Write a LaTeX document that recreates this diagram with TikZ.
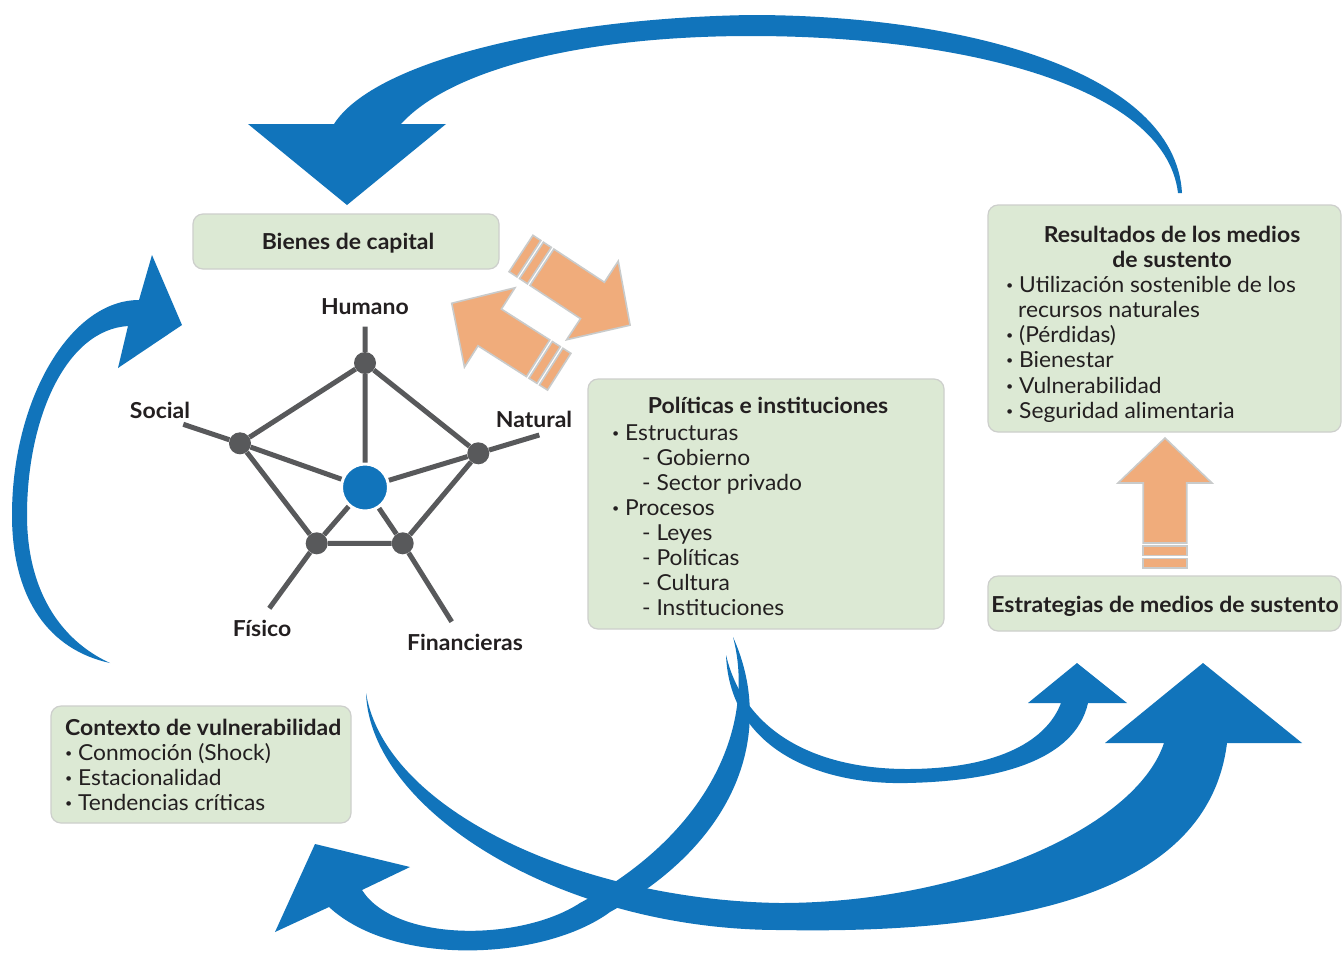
\documentclass[tikz,border=0pt]{standalone}
\usepackage{fontspec}
\setmainfont{Lato}[FakeStretch=1.036, BoldFeatures={FakeStretch=1.045}]
\definecolor{ink}{HTML}{231F20}
\definecolor{flowblue}{HTML}{1174BB}
\definecolor{boxfill}{HTML}{DCE9D4}
\definecolor{boxline}{HTML}{CDCFCC}
\definecolor{orfill}{HTML}{F0AC7B}
\definecolor{orline}{HTML}{C9CBCB}
\definecolor{webgray}{HTML}{58595B}
% small list bullet followed by a fixed gap
\newcommand\itemdot{\makebox[13pt][l]{\raisebox{2.6pt}{\fontsize{12}{12}\selectfont •}}}
\begin{document}
\begin{tikzpicture}[x=1pt,y=-1pt,
  capbox/.style={draw=boxline, line width=1.2, fill=boxfill, rounded corners=10, inner sep=0},
  txt/.style={inner sep=0, text=ink, font=\fontsize{22}{25}\selectfont},
  btxt/.style={txt, font=\fontsize{22}{25}\selectfont\bfseries},
  dot/.style={circle, fill=webgray, minimum size=22, inner sep=0},
  web/.style={draw=webgray, line width=5},
  orpart/.style={fill=orfill, draw=orline, line width=1.6, line join=miter},
  pics/blockarrow/.style={code={
    \path[orpart] (0,-21.75) rectangle (9.5,21.75);
    \path[orpart] (12.5,-21.75) rectangle (22,21.75);
    \path[orpart] (25,-21.75) -- ({#1-45},-21.75) -- ({#1-45},-47) -- (#1,0)
      -- ({#1-45},47) -- ({#1-45},21.75) -- (25,21.75) -- cycle;
  }}
]
\useasboundingbox (0,0) rectangle (1343,954);
\fill[white] (0,0) rectangle (1343,954);

% ---- boxes
\node[capbox, minimum width=306, minimum height=55] (bienes) at (346,241.5) {};
\node[capbox, minimum width=356, minimum height=250] (politicas) at (766,504) {};
\node[capbox, minimum width=353, minimum height=227] (resultados) at (1164.5,318.5) {};
\node[capbox, minimum width=353, minimum height=55] (estrategias) at (1164.5,603.5) {};
\node[capbox, minimum width=300, minimum height=117] (contexto) at (201,764.5) {};

% ---- blue flow arrows
% outcomes back to capital assets (top)
\fill[flowblue] (334,124) .. controls (375,60) and (560,18) .. (751,15)
  .. controls (960,15) and (1175,70) .. (1182,193) -- (1178,193)
  .. controls (1165,85) and (960,36) .. (751,36)
  .. controls (580,36) and (450,70) .. (401,124)
  -- (446,124) -- (347,205) -- (248,124) -- cycle;
% vulnerability context to capital assets (left)
\fill[flowblue] (139,300) .. controls (70,300) and (12,400) .. (12,515)
  .. controls (12,600) and (50,650) .. (110,663)
  .. controls (60,640) and (27,590) .. (27,515)
  .. controls (27,420) and (65,330) .. (128,326)
  -- (118,368) -- (182,325) -- (152,255) -- cycle;
% capital assets to strategies (large bottom)
\fill[flowblue] (366,693) .. controls (370,810) and (560,930) .. (780,930)
  .. controls (1050,935) and (1210,880) .. (1227,743)
  -- (1302,743) -- (1203,663) -- (1105,743) -- (1164,743)
  .. controls (1135,830) and (960,903) .. (780,903)
  .. controls (580,900) and (385,810) .. (366,693) -- cycle;
% policies to vulnerability context
\fill[flowblue] (733,637) .. controls (775,730) and (740,840) .. (610,912)
  .. controls (545,960) and (395,968) .. (329,907)
  -- (275,932) -- (315,844) -- (410,867) -- (362,890)
  .. controls (395,942) and (520,942) .. (580,903)
  .. controls (715,830) and (755,720) .. (733,637) -- cycle;
% policies to strategies
\fill[flowblue] (726,655) .. controls (730,750) and (820,785) .. (907,783)
  .. controls (1000,781) and (1075,760) .. (1088,703)
  -- (1127,703) -- (1077,663) -- (1028,703) -- (1061,703)
  .. controls (1045,745) and (990,769) .. (907,769)
  .. controls (820,769) and (745,735) .. (726,655) -- cycle;

% ---- orange block arrows
\pic[rotate=-33.3] at (521,253.5) {blockarrow=130.5};
\pic[rotate=147.5] at (559.2,371.7) {blockarrow=127.4};
\pic[rotate=90] at (1165,568) {blockarrow=130};

% ---- capital pentagon
\node[dot] (hum) at (365,363) {};
\node[dot] (soc) at (240,443.3) {};
\node[dot] (nat) at (478.3,453.3) {};
\node[dot] (fis) at (316.7,543.3) {};
\node[dot] (fin) at (402.7,543.3) {};
\node[circle, fill=flowblue, draw=white, line width=3, minimum size=47, inner sep=0] (ctr) at (365,487.5) {};
\coordinate (humE) at (365,326.7);
\coordinate (socE) at (183.3,424.3);
\coordinate (natE) at (539.3,435);
\coordinate (fisE) at (269.3,608.3);
\coordinate (finE) at (451.7,621.7);
\draw[web] (hum) -- (humE) (soc) -- (socE) (nat) -- (natE) (fis) -- (fisE) (fin) -- (finE);
\draw[web] (hum) -- (soc) -- (fis) -- (fin) -- (nat) -- (hum);
\draw[web] (ctr) -- (hum) (ctr) -- (soc) (ctr) -- (nat) (ctr) -- (fis) (ctr) -- (fin);

\node[btxt, anchor=base] (lhum) at (365,314) {Humano};
\node[btxt, anchor=base] (lsoc) at (160,418) {Social};
\node[btxt, anchor=base] (lnat) at (534,427) {Natural};
\node[btxt, anchor=base] (lfis) at (262,636) {Físico};
\node[btxt, anchor=base] (lfin) at (465,650) {Financieras};

% ---- box texts
\node[btxt, anchor=base] (tbienes) at (348,249) {Bienes de capital};

\node[btxt, anchor=base] (tpol) at (768,413) {Políticas e instituciones};
\node[txt, anchor=base west] (p1) at (612,440) {\itemdot Estructuras};
\node[txt, anchor=base west] (p2) at (642,465) {- Gobierno};
\node[txt, anchor=base west] (p3) at (642,490) {- Sector privado};
\node[txt, anchor=base west] (p4) at (612,515) {\itemdot Procesos};
\node[txt, anchor=base west] (p5) at (642,540) {- Leyes};
\node[txt, anchor=base west] (p6) at (642,565) {- Políticas};
\node[txt, anchor=base west] (p7) at (642,590) {- Cultura};
\node[txt, anchor=base west] (p8) at (642,615) {- Instituciones};

\node[btxt, anchor=base] (tres1) at (1172,242) {Resultados de los medios};
\node[btxt, anchor=base] (tres2) at (1172,267) {de sustento};
\node[txt, anchor=base west] (r1) at (1006,292) {\itemdot Utilización sostenible de los};
\node[txt, anchor=base west] (r1b) at (1018,317) {recursos naturales};
\node[txt, anchor=base west] (r2) at (1006,342) {\itemdot (Pérdidas)};
\node[txt, anchor=base west] (r3) at (1006,367) {\itemdot Bienestar};
\node[txt, anchor=base west] (r4) at (1006,393) {\itemdot Vulnerabilidad};
\node[txt, anchor=base west] (r5) at (1006,418) {\itemdot Seguridad alimentaria};

\node[btxt, anchor=base] (testr) at (1165,612) {Estrategias de medios de sustento};

\node[btxt, anchor=base west] (tctx) at (65,735) {Contexto de vulnerabilidad};
\node[txt, anchor=base west] (c1) at (65,760) {\itemdot Conmoción (Shock)};
\node[txt, anchor=base west] (c2) at (65,785) {\itemdot Estacionalidad};
\node[txt, anchor=base west] (c3) at (65,810) {\itemdot Tendencias críticas};
\end{tikzpicture}
\end{document}
